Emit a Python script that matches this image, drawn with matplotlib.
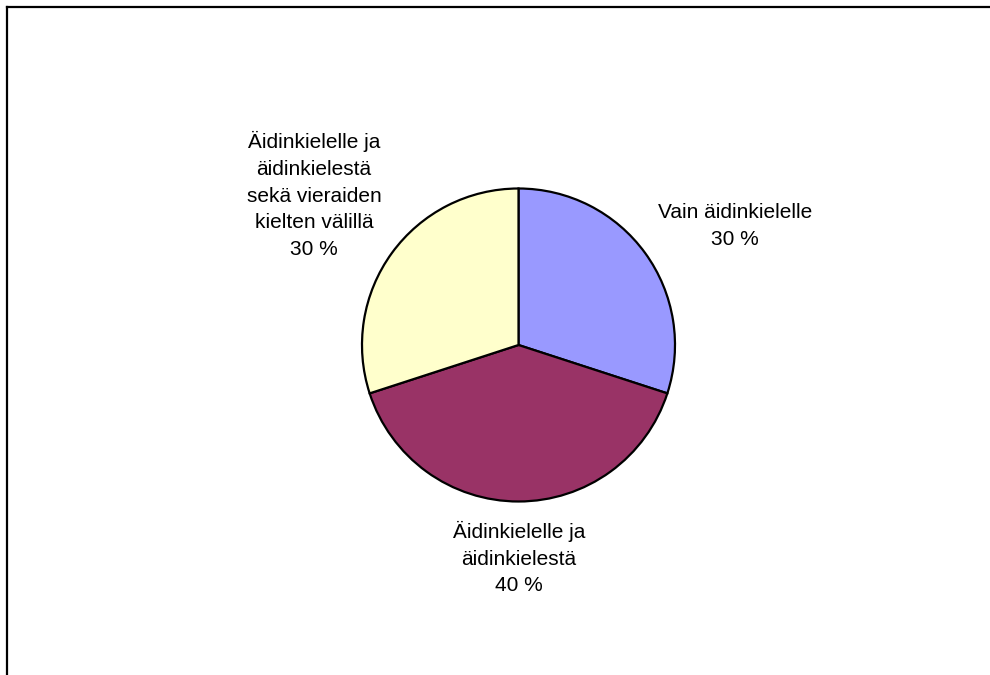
import matplotlib.pyplot as plt
from matplotlib.lines import Line2D

plt.rcParams['font.family'] = ['Liberation Sans', 'DejaVu Sans']

labels = ['Vain äidinkielelle',
          'Äidinkielelle ja\näidinkielestä',
          'Äidinkielelle ja\näidinkielestä\nsekä vieraiden\nkielten välillä']
shares = [30, 40, 30]
colors = ['#9999FF', '#993366', '#FFFFCC']

W, H = 990, 675
fig = plt.figure(figsize=(W / 100, H / 100), dpi=100)
ax = fig.add_axes([0, 0, 1, 1])

# pie in pixel units (y axis points down, so counterclock=True draws clockwise)
cx, cy, r = 518.5, 345, 156.5
ax.pie(shares, colors=colors, startangle=-90, counterclock=True,
       center=(cx, cy), radius=r, frame=True,
       wedgeprops=dict(edgecolor='black', linewidth=1.6))
ax.set_xlim(0, W)
ax.set_ylim(H, 0)
ax.set_aspect('equal')
ax.axis('off')

# label block centres
label_pos = [(735, 226), (519, 558), (314, 195)]
for lab, val, (x, y) in zip(labels, shares, label_pos):
    ax.text(x, y, f'{lab}\n{val} %', ha='center', va='center',
            fontsize=15, linespacing=1.52, color='black')

# chart area border (top and left edges only)
fig.add_artist(Line2D([7 / W, 7 / W], [0, 1 - 7 / H], color='black', lw=1.6))
fig.add_artist(Line2D([7 / W, 1], [1 - 7 / H, 1 - 7 / H], color='black', lw=1.6))

fig.savefig('out.png', dpi=100)
